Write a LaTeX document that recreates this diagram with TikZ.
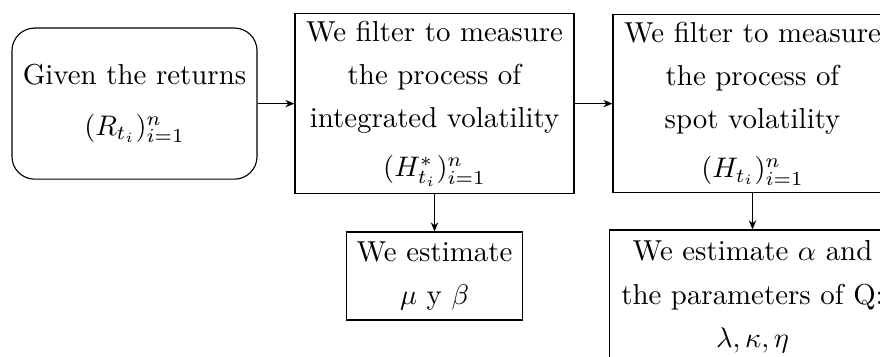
\documentclass[tikz,border=0pt]{standalone}
\usetikzlibrary{arrows.meta}
\begin{document}
\begin{tikzpicture}[x=0.3534pt,y=-0.3534pt,
  box/.style={draw, line width=0.4pt, align=center, inner sep=0pt, font=\fontsize{10.2}{15.3}\selectfont},
  arr/.style={-{Stealth[length=3.2pt,width=2.6pt]}, line width=0.4pt}]
\useasboundingbox (0,0) rectangle (880,356);
\clip (0,0) rectangle (880,356);
\node[box, rounded corners=8pt, minimum width=86.6pt, minimum height=53.4pt] (given) at (134.5,103.6)
  {Given the returns\\[2.5pt] $(R_{t_i})_{i=1}^n$};
\node[box, minimum width=98.6pt, minimum height=63.6pt] (integ) at (434.5,103.6)
  {We filter to measure\\ the process of\\ integrated volatility\\[2pt] $(H^*_{t_i})_{i=1}^n$};
\node[box, minimum width=62.2pt, minimum height=31.1pt] (mubeta) at (434.5,276)
  {We estimate\\ $\mu$ y $\beta$};
\node[box, minimum width=98.6pt, minimum height=63pt] (spot) at (752.5,103.6)
  {We filter to measure\\ the process of\\ spot volatility\\[2pt] $(H_{t_i})_{i=1}^n$};
\node[box, minimum width=101pt, minimum height=47.4pt] (qpar) at (752.5,297)
  {We estimate $\alpha$ and\\ the parameters of Q:\\ $\lambda, \kappa, \eta$};
\draw[arr] (given.east) -- (given.east -| integ.west);
\draw[arr] (integ.east) -- (integ.east -| spot.west);
\draw[arr] (integ.south) -- (integ.south |- mubeta.north);
\draw[arr] (spot.south) -- (spot.south |- qpar.north);
\end{tikzpicture}
\end{document}
